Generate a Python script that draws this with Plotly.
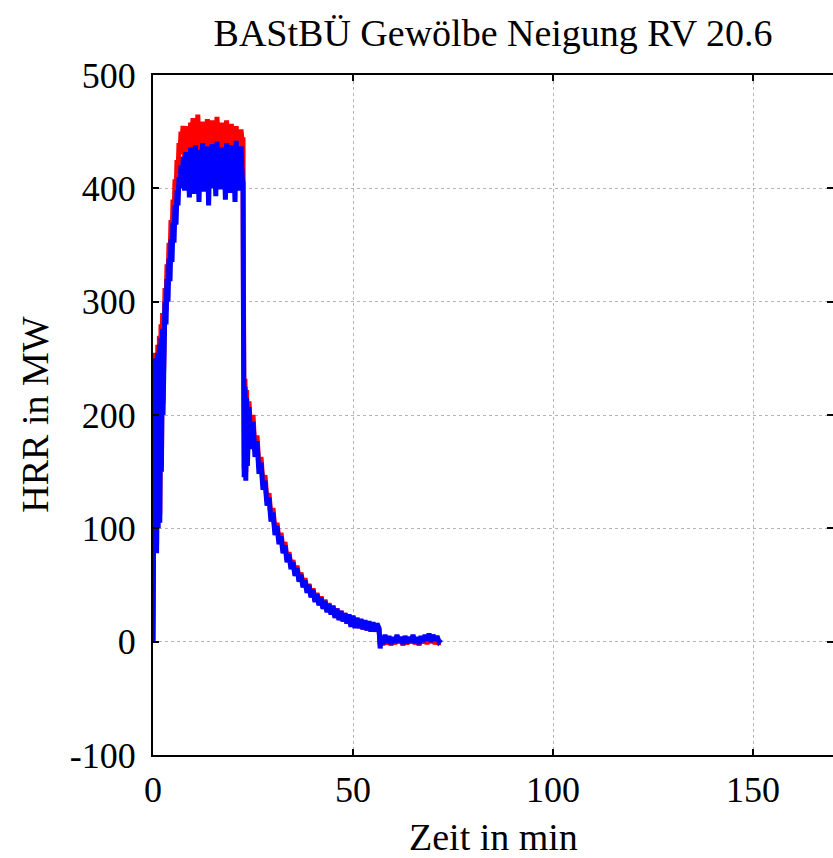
import plotly.graph_objects as go

# Zeitpunkte (min)
t_rise = [0, 0.1, 0.2, 0.3, 0.4, 0.5, 0.6, 0.7, 0.8, 0.9, 1.0, 1.1, 1.2, 1.3, 1.4, 1.5, 1.6,
          1.7, 1.8, 1.9, 2.0, 2.1, 2.2, 2.3, 2.4, 2.5,
          2.75, 3.0, 3.25, 3.5, 3.75, 4.0, 4.25, 4.5, 4.75, 5.0, 5.25, 5.5, 5.75, 6.0, 6.25,
          6.5, 6.75, 7.0, 7.25, 7.5]
t_plateau = [7.6, 7.9, 8.2, 8.5, 8.8, 9.1, 9.4, 9.7, 10.0, 10.3, 10.6, 10.9, 11.2, 11.5, 11.8,
             12.1, 12.4, 12.7, 13.0, 13.3, 13.6, 13.9, 14.2, 14.5, 14.8, 15.1, 15.4, 15.7, 16.0,
             16.3, 16.6, 16.9, 17.2, 17.5, 17.8, 18.1, 18.4, 18.7, 19.0, 19.3, 19.6, 19.9, 20.2,
             20.5, 20.8, 21.1, 21.4, 21.7, 22.0, 22.3]
t_drop = [22.5, 22.6, 22.7, 22.8, 23.0, 23.2, 23.4, 23.6, 23.8]
t_decay = [24.0, 24.5, 25.0, 25.5, 26.0, 26.5, 27.0, 27.5, 28.0, 28.5,
           29.0, 29.5, 30.0, 30.5, 31.0, 31.5, 32.0, 32.5, 33.0, 33.5,
           34.0, 34.5, 35.0, 35.5, 36.0, 36.5, 37.0, 37.5, 38.0, 38.5,
           39.0, 39.5, 40.0, 40.5, 41.0, 41.5, 42.0, 42.5, 43.0, 43.5,
           44.0, 44.5, 45.0, 45.5, 46.0, 46.5, 47.0, 47.5, 48.0, 48.5,
           49.0, 49.5, 50.0, 50.5, 51.0, 51.5, 52.0, 52.5, 53.0, 53.5,
           54.0, 54.5, 55.0, 55.5, 56.0]
t_tail = [56.5, 56.8, 57.0, 57.5, 58.0, 58.5, 59.0, 59.5, 60.0, 60.5, 61.0, 61.5, 62.0, 62.5,
          63.0, 63.5, 64.0, 64.5, 65.0, 65.5, 66.0, 66.5, 67.0, 67.5, 68.0, 68.5, 69.0, 69.5,
          70.0, 70.5, 71.0, 71.5, 72.0]

# HRR rot (MW)
rot_rise = [0, 85, 215, 78, 245, 90, 255, 100, 250, 85, 258, 115, 262, 108, 265, 125, 270,
            112, 275, 138, 280, 160, 285, 190, 290, 210,
            262, 312, 292, 333, 315, 352, 334, 372, 352, 390, 372, 408, 392, 425, 412, 440,
            430, 450, 440, 455]
rot_plateau = [452, 428, 455, 432, 450, 425, 458, 436, 462, 430, 456, 428, 465, 433, 452, 426,
               459, 438, 454, 430, 461, 427, 453, 435, 460, 429, 455, 432, 463, 437, 451, 426,
               458, 434, 456, 430, 460, 428, 452, 436, 457, 431, 454, 427, 455, 433, 450, 429,
               452, 440]
rot_drop = [445, 320, 238, 152, 232, 150, 222, 162, 210]
rot_decay = [212, 176, 200, 168, 182, 154, 163, 139, 147, 124,
             131, 110, 118, 97, 105, 89, 96, 81, 88, 73,
             79, 66, 72, 60, 67, 55, 61, 50, 56, 45,
             51, 40, 47, 36, 43, 33, 40, 30, 37, 27,
             34, 25, 32, 22, 29, 20, 27, 18, 25, 16,
             23, 14, 22, 13, 21, 12, 19, 11, 18, 10,
             17, 9, 16, 9, 15]
rot_tail = [11, -3, 2, -3, 3, -2, 2, -3, 2, -2, 3, -1, 2, -3, 2, -2, 2, -1, 3, -2, 2, -3,
            2, -1, 3, -2, 3, -1, 3, -2, 2, -1, -1]

# HRR blau (MW)
blau_rise = [0, 80, 210, 72, 240, 85, 250, 95, 245, 78, 252, 110, 255, 100, 258, 120, 262,
             105, 265, 130, 268, 150, 272, 180, 276, 200,
             250, 300, 280, 320, 300, 338, 318, 355, 335, 370, 352, 385, 368, 398, 385, 410,
             400, 420, 410, 428]
blau_plateau = [428, 398, 432, 405, 425, 392, 436, 410, 430, 395, 438, 402, 427, 388, 434, 408,
                440, 397, 429, 404, 437, 385, 431, 400, 439, 406, 426, 393, 441, 410, 433, 399,
                436, 402, 428, 390, 440, 407, 432, 396, 438, 401, 430, 388, 442, 405, 434, 398,
                437, 410]
blau_drop = [405, 300, 228, 145, 225, 142, 215, 155, 205]
blau_decay = [207, 170, 194, 163, 177, 148, 158, 134, 142, 120,
              127, 106, 114, 94, 102, 86, 93, 78, 85, 70,
              77, 64, 70, 58, 65, 53, 59, 48, 54, 43,
              50, 39, 46, 35, 42, 32, 39, 29, 36, 26,
              33, 24, 31, 21, 29, 19, 27, 18, 25, 16,
              24, 13, 23, 12, 21, 12, 20, 11, 19, 10,
              18, 9, 17, 9, 16]
blau_tail = [12, -6, 5, -2, 6, -1, 5, -2, 4, -1, 6, 0, 4, -2, 5, -1, 4, 0, 6, -1, 4, -2,
             5, 0, 6, 1, 7, 0, 6, 1, 5, 0, 2]

zeit = t_rise + t_plateau + t_drop + t_decay + t_tail
hrr_rot = rot_rise + rot_plateau + rot_drop + rot_decay + rot_tail
hrr_blau = blau_rise + blau_plateau + blau_drop + blau_decay + blau_tail

fig = go.Figure()
fig.add_trace(go.Scatter(x=zeit, y=hrr_rot, mode='lines', line=dict(color='#ff0000', width=5)))
fig.add_trace(go.Scatter(x=zeit, y=hrr_blau, mode='lines', line=dict(color='#0000ff', width=5)))

achse = dict(
    showline=True, linewidth=2, linecolor='black', mirror='allticks',
    ticks='inside', ticklen=6, tickwidth=2, tickcolor='black',
    showgrid=True, gridcolor='#b4b4b4', gridwidth=1, griddash='dot',
    zeroline=False, automargin=False,
)

fig.update_layout(
    width=833, height=858,
    margin=dict(l=153, r=0, t=75, b=103),
    paper_bgcolor='white', plot_bgcolor='white',
    showlegend=False,
    font=dict(family='Liberation Serif', size=36, color='black'),
    title=dict(text='BAStBÜ Gewölbe Neigung RV 20.6', x=0.5, xref='paper', xanchor='center',
               y=0.962, yref='container', yanchor='middle', font=dict(size=38)),
    xaxis=dict(achse, range=[0, 170], tickvals=[0, 50, 100, 150], ticklabelstandoff=2),
    yaxis=dict(achse, range=[-100, 500], tickvals=[-100, 0, 100, 200, 300, 400, 500],
               ticktext=['-100', '0', '100', '200', '300', '400', '500'],
               ticklabelstandoff=8),
    annotations=[
        dict(text='Zeit in min', x=0.5, y=-0.121, xref='paper', yref='paper',
             xanchor='center', yanchor='middle', showarrow=False, font=dict(size=38)),
        dict(text='HRR in MW', x=-0.174, y=0.5, xref='paper', yref='paper', textangle=-90,
             xanchor='center', yanchor='middle', showarrow=False, font=dict(size=38)),
    ],
)

# Standard-Rand des Browsers entfernen, damit die Grafik bei (0, 0) beginnt
fig.write_html("out.html", config={'displayModeBar': False},
               post_script="document.body.style.margin='0';")
